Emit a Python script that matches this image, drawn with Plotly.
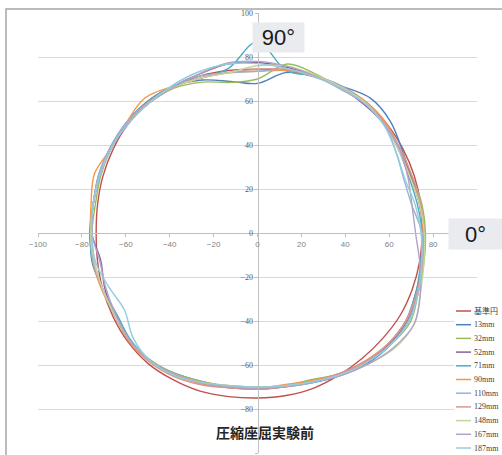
import numpy as np
import plotly.graph_objects as go

# ---- data ----
angles_deg = [0, 10, 20, 30, 40, 50, 60, 70, 80, 90, 100, 110, 120, 130, 140, 150, 160, 170,
              180, 190, 200, 210, 220, 230, 240, 250, 260, 270, 280, 290, 300, 310, 320, 330, 340, 350]

series_names = ["基準円", "13mm", "32mm", "52mm", "71mm", "90mm", "110mm", "129mm", "148mm", "167mm", "187mm"]
series_colors = ["#C0504D", "#4F81BD", "#9BBB59", "#8064A2", "#4BACC6", "#F79646",
                 "#95B3D7", "#D99694", "#C3D69B", "#B3A2C7", "#93CDDD"]

r_base  = [75, 75.5, 76, 76.5, 77, 77, 76.5, 75.5, 75, 74.5, 75, 76, 76.5, 77, 77, 76, 75, 74,
           73.5, 74, 75, 76, 77, 77.5, 77, 76.5, 75.5, 75, 75, 75, 74.5, 74.3, 74.5, 75, 75, 75]
r_13mm  = [76, 75, 74.5, 76, 79, 80, 77, 76, 74, 68, 70, 74, 77, 78, 78, 77.5, 77, 76,
           76, 76.5, 75, 74.5, 76, 76, 74, 72, 71, 70.5, 71, 72.5, 75, 77.5, 79, 78.5, 77, 76.5]
r_32mm  = [76.5, 76, 75, 75, 76, 77, 76, 77, 78, 70, 69.5, 73, 76, 77, 78, 77, 76, 75,
           75.5, 76, 75, 75, 76, 75.5, 74, 72, 70.5, 70, 70.5, 71, 74, 76.5, 79, 80.5, 78, 77]
r_52mm  = [75.5, 75, 74.5, 75, 76, 76, 76, 76, 76.5, 77.5, 78, 77, 77, 78, 77, 77, 76.5, 76,
           75.5, 72.5, 74, 75, 76, 76, 74.5, 73, 71.5, 71, 71, 72, 74, 76.5, 78.5, 79, 78, 76]
r_71mm  = [75, 74, 73.5, 74.5, 76, 77, 77, 76, 75, 87, 76, 75, 77, 78, 78, 77.5, 76.5, 76,
           76.5, 76, 75, 74, 75.5, 76, 75, 72.5, 71, 70.5, 70.5, 72, 74, 76.5, 78, 78.5, 77, 75.5]
r_90mm  = [75.5, 75, 74, 75, 77, 77.5, 77, 76, 75, 73.5, 74, 75, 77, 80, 78, 77, 79, 77,
           76, 76, 75.5, 75, 76.5, 76.5, 75, 73, 71.5, 70.5, 70, 71.5, 74, 76.5, 78, 78.5, 77.5, 76]
r_110mm = [75, 71.5, 71, 73, 76, 77, 77, 76, 75.5, 73.5, 74, 76, 77, 77.5, 78, 77.5, 77, 76,
           76, 76, 75, 75, 76, 76, 74.5, 72.5, 71, 70.5, 71, 72.5, 74.5, 77, 79, 79.5, 78, 76.5]
r_129mm = [76, 75.5, 75, 75.5, 76.5, 77, 76.5, 76, 75.5, 74.5, 74, 75, 76.5, 77.5, 77.5, 77, 76.5, 76,
           75.5, 75.5, 75, 75, 76, 76.5, 75.5, 73.5, 71.5, 71, 71, 72, 74, 76, 78, 78.5, 77.5, 76.5]
r_148mm = [76, 75, 74, 74.5, 76, 77, 76.5, 76.5, 77, 76, 74, 75, 76.5, 77, 77.5, 77, 76.5, 76,
           76, 75.5, 75, 75, 76, 76, 74.5, 72.5, 70.5, 70, 70.5, 72, 75, 78, 81.5, 82.5, 79, 77]
r_167mm = [72, 71.5, 73, 75, 76, 76.5, 75.5, 76, 77, 78, 78.5, 77, 76.5, 77, 77.5, 77, 76.5, 76,
           75.5, 73, 73.5, 74.5, 76, 76, 74.5, 72.5, 71, 70.5, 70.5, 72, 75, 78, 81, 82.5, 79, 75]
r_187mm = [74.5, 73, 71.5, 73, 75.5, 76.5, 76, 75.5, 76, 77, 78, 78, 77.5, 77, 77, 77, 76.5, 76,
           75.5, 75, 72, 70, 74, 76, 75, 72.5, 70.5, 70, 70.5, 72, 74.5, 77, 79, 80, 78, 76]

series_radii = [r_base, r_13mm, r_32mm, r_52mm, r_71mm, r_90mm, r_110mm, r_129mm, r_148mm, r_167mm, r_187mm]

x_ticks = [-100, -80, -60, -40, -20, 0, 20, 40, 60, 80]
y_ticks = [-100, -80, -60, -40, -20, 0, 20, 40, 60, 80, 100]
chart_title = "圧縮座屈実験前"
label_90 = "90°"
label_0 = "0°"

# ---- figure ----
fig = go.Figure()
theta = np.deg2rad(np.array(angles_deg + [angles_deg[0] + 360], dtype=float))
for name, color, radii in zip(series_names, series_colors, series_radii):
    r = np.array(radii + [radii[0]], dtype=float)
    fig.add_trace(go.Scatter(
        x=r * np.cos(theta), y=r * np.sin(theta), mode="lines", name=name,
        line=dict(color=color, width=1.4, shape="spline", smoothing=1.0),
        showlegend=False))

W, H = 502, 455
ML, MR, MT, MB = 38, 25, 13, 2
PW, PH = W - ML - MR, H - MT - MB

def px(xp):
    return (xp - ML) / PW

def py(yp):
    return (H - MB - yp) / PH

fig.update_layout(
    width=W, height=H,
    margin=dict(l=ML, r=MR, t=MT, b=MB),
    plot_bgcolor="white", paper_bgcolor="white",
    showlegend=False,
)
fig.update_xaxes(range=[-100, 100], tickvals=x_ticks, showgrid=False, zeroline=False,
                 showline=True, linecolor="#bfbfbf", linewidth=1,
                 anchor="free", position=0.5, ticks="outside", ticklen=3, tickcolor="#bfbfbf",
                 tickfont=dict(family="Liberation Sans", size=8, color="#7f7f7f"))
fig.update_yaxes(range=[-100, 100], tickvals=y_ticks, showgrid=True, gridcolor="#d9d9d9",
                 gridwidth=1, zeroline=False, showline=True, linecolor="#bfbfbf", linewidth=1,
                 anchor="free", position=0.5, ticks="outside", ticklen=3, tickcolor="#bfbfbf",
                 tickfont=dict(family="Liberation Serif", size=8, color="#595959"))

shapes = []
# outer chart frame
shapes.append(dict(type="rect", xref="paper", yref="paper", x0=px(6), x1=px(560), y0=py(520), y1=py(9),
                   line=dict(color="#a6a6a6", width=1.5), fillcolor="rgba(0,0,0,0)", layer="above"))
# legend background
leg_top = 304
shapes.append(dict(type="rect", xref="paper", yref="paper", x0=px(454), x1=px(502), y0=py(455), y1=py(leg_top),
                   line=dict(width=0), fillcolor="white", layer="above"))
annotations = []
leg_first, leg_step = 311, 13.7
for i, (name, color) in enumerate(zip(series_names, series_colors)):
    yy = leg_first + i * leg_step
    shapes.append(dict(type="line", xref="paper", yref="paper", x0=px(456), x1=px(471), y0=py(yy), y1=py(yy),
                       line=dict(color=color, width=1.5), layer="above"))
    annotations.append(dict(xref="paper", yref="paper", x=px(472), y=py(yy), text=name, showarrow=False,
                            xanchor="left", yanchor="middle",
                            font=dict(family="Liberation Serif, Noto Sans CJK JP", size=8, color="#404040")))

annotations.append(dict(xref="paper", yref="paper", x=px(278.5), y=py(37.5), text=label_90, showarrow=False,
                        xanchor="center", yanchor="middle",
                        width=51, height=29, bgcolor="#e9ebee", borderpad=0,
                        font=dict(family="Liberation Sans", size=22, color="#1a1a1a")))
annotations.append(dict(xref="paper", yref="paper", x=px(475.5), y=py(234), text=label_0, showarrow=False,
                        xanchor="center", yanchor="middle",
                        width=53, height=30, bgcolor="#e9ebee", borderpad=0,
                        font=dict(family="Liberation Sans", size=22, color="#1a1a1a")))
annotations.append(dict(xref="paper", yref="paper", x=px(265), y=py(432), text="<b>" + chart_title + "</b>",
                        xanchor="center", yanchor="middle",
                        showarrow=False, font=dict(family="Noto Sans CJK JP", size=14, color="#262626")))

fig.update_layout(shapes=shapes, annotations=annotations)
fig.write_html("out.html", config={"displayModeBar": False},
               post_script="document.body.style.margin='0';document.body.style.overflow='hidden';")
